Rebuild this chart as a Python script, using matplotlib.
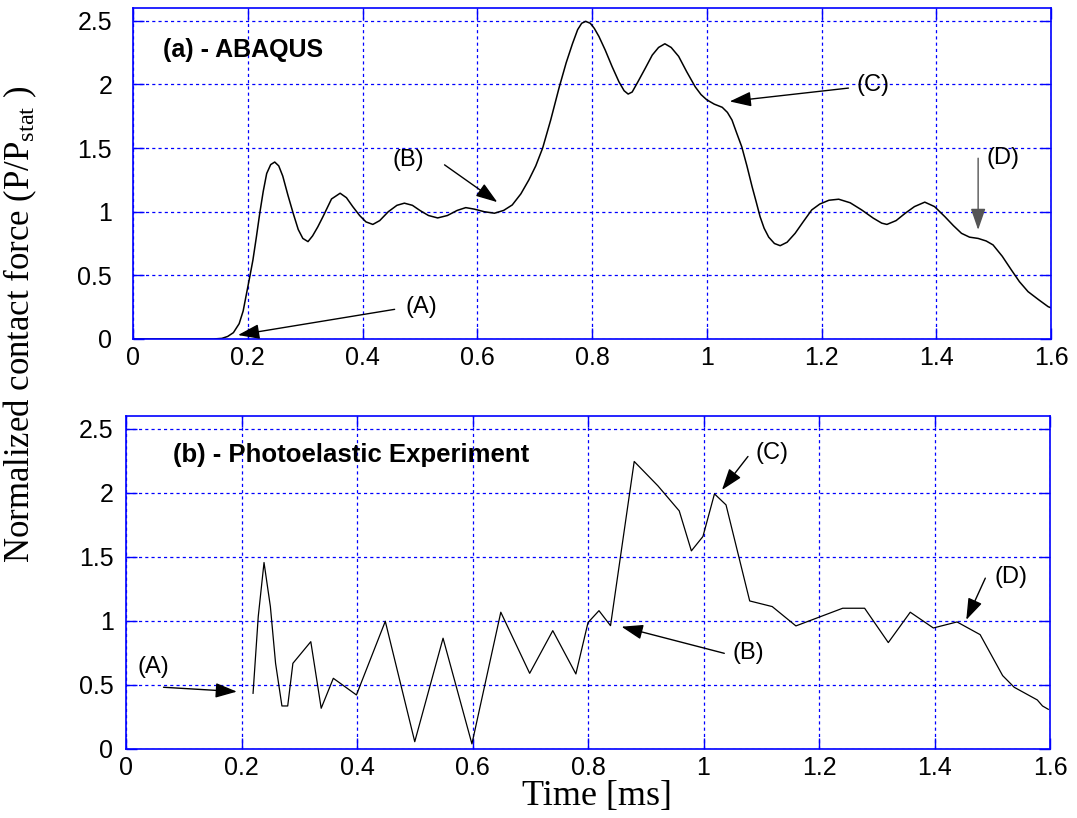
import matplotlib
matplotlib.use("Agg")
import matplotlib.pyplot as plt

plt.rcParams["font.family"] = ["Liberation Sans", "DejaVu Sans"]
plt.rcParams["mathtext.fontset"] = "custom"
plt.rcParams["mathtext.rm"] = "Liberation Serif"
plt.rcParams["mathtext.it"] = "Liberation Serif:italic"

# ---- data -------------------------------------------------------------
# (a) ABAQUS simulation: normalized contact force vs time
abaqus_t = [0.00, 0.14, 0.155, 0.165, 0.175, 0.185, 0.192, 0.198, 0.204, 0.209,
            0.215, 0.221, 0.227, 0.233, 0.240, 0.247, 0.254, 0.261, 0.270, 0.279,
            0.288, 0.296, 0.305, 0.313, 0.322, 0.331, 0.346, 0.361, 0.372, 0.383,
            0.395, 0.406, 0.418, 0.430, 0.445, 0.460, 0.473, 0.487, 0.500, 0.515,
            0.531, 0.548, 0.565, 0.580, 0.595, 0.612, 0.630, 0.646, 0.661, 0.676,
            0.690, 0.702, 0.714, 0.728, 0.743, 0.755, 0.766, 0.775, 0.782, 0.789,
            0.797, 0.804, 0.812, 0.823, 0.835, 0.847, 0.856, 0.863, 0.870, 0.880,
            0.893, 0.905, 0.916, 0.927, 0.938, 0.951, 0.965, 0.980, 0.990, 1.000,
            1.013, 1.027, 1.036, 1.044, 1.052, 1.061, 1.070, 1.079, 1.086, 1.093,
            1.100, 1.108, 1.118, 1.128, 1.140, 1.154, 1.168, 1.183, 1.197, 1.213,
            1.230, 1.250, 1.270, 1.290, 1.305, 1.314, 1.330, 1.346, 1.362, 1.380,
            1.397, 1.415, 1.430, 1.444, 1.458, 1.473, 1.487, 1.499, 1.515, 1.531,
            1.545, 1.560, 1.578, 1.595, 1.600]
abaqus_p = [0.00, 0.00, 0.005, 0.02, 0.05, 0.12, 0.22, 0.36, 0.50, 0.62,
            0.80, 0.99, 1.16, 1.30, 1.37, 1.39, 1.36, 1.28, 1.13, 0.99,
            0.86, 0.79, 0.765, 0.81, 0.88, 0.96, 1.10, 1.145, 1.11, 1.04,
            0.97, 0.92, 0.90, 0.93, 1.00, 1.05, 1.067, 1.05, 1.01, 0.97,
            0.951, 0.97, 1.01, 1.032, 1.02, 1.00, 0.988, 1.01, 1.053, 1.14,
            1.25, 1.36, 1.50, 1.72, 1.98, 2.17, 2.32, 2.43, 2.48, 2.495,
            2.48, 2.44, 2.377, 2.27, 2.14, 2.02, 1.95, 1.924, 1.94, 2.02,
            2.128, 2.23, 2.29, 2.319, 2.29, 2.22, 2.10, 1.98, 1.92, 1.879,
            1.845, 1.82, 1.78, 1.72, 1.62, 1.51, 1.36, 1.197, 1.08, 0.96,
            0.87, 0.80, 0.75, 0.733, 0.76, 0.83, 0.92, 1.014, 1.06, 1.09,
            1.098, 1.07, 1.014, 0.95, 0.91, 0.90, 0.93, 0.988, 1.04, 1.075,
            1.04, 0.961, 0.89, 0.83, 0.80, 0.79, 0.77, 0.739, 0.65, 0.542,
            0.45, 0.372, 0.31, 0.254, 0.245]

# (b) photoelastic experiment: measured normalized contact force
exp_t = [0.220, 0.229, 0.239, 0.250, 0.259, 0.270, 0.280, 0.289, 0.320, 0.338,
         0.359, 0.399, 0.449, 0.500, 0.549, 0.599, 0.649, 0.699, 0.739, 0.779,
         0.800, 0.819, 0.839, 0.880, 0.921, 0.958, 0.979, 0.999, 1.019, 1.039,
         1.080, 1.119, 1.160, 1.241, 1.279, 1.320, 1.358, 1.398, 1.439, 1.479,
         1.518, 1.538, 1.578, 1.587, 1.597]
exp_p = [0.435, 1.034, 1.456, 1.112, 0.669, 0.336, 0.336, 0.669, 0.838, 0.318,
         0.552, 0.422, 0.997, 0.057, 0.865, 0.040, 1.068, 0.591, 0.924, 0.586,
         0.987, 1.080, 0.963, 2.245, 2.055, 1.859, 1.547, 1.659, 1.992, 1.906,
         1.156, 1.112, 0.961, 1.099, 1.099, 0.831, 1.068, 0.945, 0.992, 0.893,
         0.573, 0.482, 0.383, 0.336, 0.310]

x_ticks = [0, 0.2, 0.4, 0.6, 0.8, 1.0, 1.2, 1.4, 1.6]
x_tick_labels = ["0", "0.2", "0.4", "0.6", "0.8", "1", "1.2", "1.4", "1.6"]
y_ticks = [0, 0.5, 1.0, 1.5, 2.0, 2.5]
y_tick_labels = ["0", "0.5", "1", "1.5", "2", "2.5"]

# annotations: label, text position, arrow tail, arrow tip, arrow colour
abaqus_notes = [("(A)", (0.502, 0.254), (0.456, 0.233), (0.183, 0.031), "black"),
                ("(B)", (0.479, 1.407), (0.543, 1.368), (0.635, 1.075), "black"),
                ("(C)", (1.290, 1.997), (1.247, 1.971), (1.040, 1.866), "black"),
                ("(D)", (1.517, 1.420), (1.473, 1.420), (1.473, 0.857), "#555555")]
exp_notes = [("(A)", (0.047, 0.643), (0.065, 0.482), (0.192, 0.448), "black"),
             ("(B)", (1.077, 0.753), (1.036, 0.747), (0.858, 0.955), "black"),
             ("(C)", (1.119, 2.315), (1.077, 2.284), (1.032, 2.023), "black"),
             ("(D)", (1.532, 1.341), (1.488, 1.334), (1.455, 1.008), "black")]

BLUE = "#0000ff"

fig = plt.figure(figsize=(10.77, 8.18), dpi=100)
ax_a = fig.add_axes([133 / 1077, 1 - 339 / 818, 918 / 1077, 331 / 818])
ax_b = fig.add_axes([126 / 1077, 1 - 749 / 818, 924 / 1077, 333 / 818])


def style(ax, ypad):
    ax.set_xlim(0, 1.6)
    ax.set_ylim(0, 2.6)
    ax.set_xticks(x_ticks)
    ax.set_xticklabels(x_tick_labels)
    ax.set_yticks(y_ticks)
    ax.set_yticklabels(y_tick_labels)
    ax.grid(True, color=BLUE, linestyle=(0, (2.5, 2.5)), linewidth=0.9)
    for s in ax.spines.values():
        s.set_color(BLUE)
        s.set_linewidth(1.2)
    ax.tick_params(axis="both", direction="in", length=8, width=1.0,
                   color=BLUE, labelsize=18, top=True, right=True)
    ax.tick_params(axis="x", pad=5)
    ax.tick_params(axis="y", pad=ypad)


def annotate(ax, notes):
    for label, txt, tail, tip, col in notes:
        ax.text(txt[0], txt[1], label, fontsize=17, ha="center", va="center")
        ax.annotate("", xy=tip, xytext=tail,
                    arrowprops=dict(arrowstyle="-|>,head_length=1.1,head_width=0.38",
                                    mutation_scale=12, color=col, lw=1.0,
                                    shrinkA=0, shrinkB=0))


style(ax_a, 15)
style(ax_b, 9)

ax_a.plot(abaqus_t, abaqus_p, color="black", lw=1.1)
ax_b.plot(exp_t, exp_p, color="black", lw=0.9)

ax_a.text(0.052, 2.27, "(a) - ABAQUS", fontsize=18, fontweight="bold",
          ha="left", va="center")
ax_b.text(0.082, 2.297, "(b) - Photoelastic Experiment", fontsize=18.5,
          fontweight="bold", ha="left", va="center")

annotate(ax_a, abaqus_notes)
annotate(ax_b, exp_notes)

fig.text(597 / 1077, 1 - 797 / 818, "Time [ms]", fontsize=26,
         family="Liberation Serif", ha="center", va="center")
fig.text(20 / 1077, 1 - 324 / 818, r"Normalized contact force (P/P$_{\rm stat}$ )",
         fontsize=25, family="Liberation Serif", rotation=90,
         ha="center", va="center")

fig.savefig("out.png", dpi=100)
